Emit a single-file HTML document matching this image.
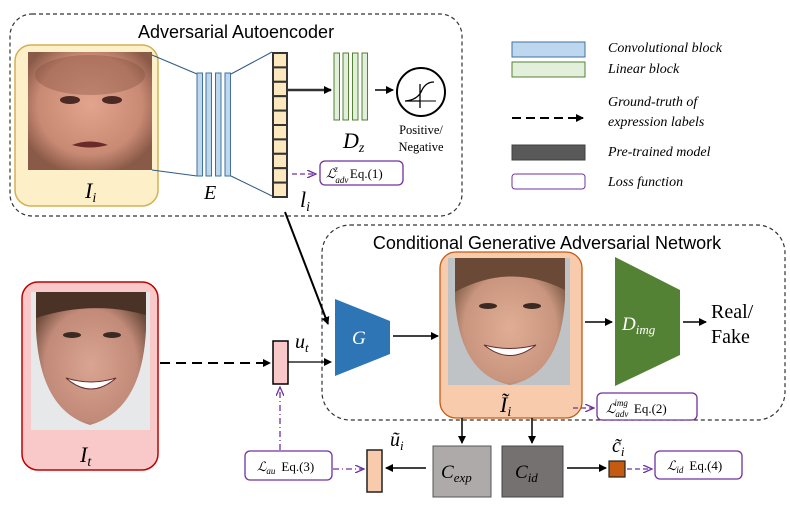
<!DOCTYPE html>
<html><head><meta charset="utf-8"><style>
body{margin:0;background:#fff}
svg{display:block}
text{font-family:"Liberation Serif",serif}
.s{font-family:"Liberation Sans",sans-serif}
.i{font-style:italic}
</style></head><body>
<svg width="790" height="509" viewBox="0 0 790 509" xmlns="http://www.w3.org/2000/svg">
<defs>
<marker id="a" markerWidth="8" markerHeight="8" refX="7" refY="4" orient="auto" markerUnits="userSpaceOnUse"><path d="M0,0 L8,4 L0,8 Z" fill="#000"/></marker>
<marker id="ap" markerWidth="10" markerHeight="8" refX="9" refY="4" orient="auto" markerUnits="userSpaceOnUse"><path d="M0,0 L9,4 L0,8" fill="none" stroke="#7030a0" stroke-width="1.3"/></marker>
<radialGradient id="skin1" cx="50%" cy="45%" r="60%"><stop offset="0" stop-color="#e3a48e"/><stop offset="0.7" stop-color="#c98a74"/><stop offset="1" stop-color="#8a5a48"/></radialGradient>
<radialGradient id="skin2" cx="50%" cy="55%" r="60%"><stop offset="0" stop-color="#d9a592"/><stop offset="0.7" stop-color="#c28a78"/><stop offset="1" stop-color="#6b4a3a"/></radialGradient>
<radialGradient id="skin3" cx="50%" cy="55%" r="60%"><stop offset="0" stop-color="#e0ad95"/><stop offset="0.7" stop-color="#c9957e"/><stop offset="1" stop-color="#7a5a44"/></radialGradient>
</defs>

<!-- top dashed box -->
<rect x="10" y="14" width="452" height="202" rx="22" fill="none" stroke="#333" stroke-dasharray="4,3" stroke-width="1.2"/>
<text x="236" y="38" text-anchor="middle" class="s" font-size="18" style="font-family:'Liberation Sans',sans-serif">Adversarial Autoencoder</text>

<rect x="15" y="45" width="143" height="161" rx="16" fill="#fdf0c8" stroke="#d4b050" stroke-width="1.5"/>
<rect x="28" y="52" width="124" height="118" fill="url(#skin1)"/>
<ellipse cx="90" cy="75" rx="55" ry="20" fill="#7a4a38" opacity="0.35"/>
<ellipse cx="70" cy="100" rx="10" ry="4" fill="#4a2a22"/><ellipse cx="112" cy="100" rx="10" ry="4" fill="#4a2a22"/>
<path d="M72,145 Q90,138 108,145 Q90,150 72,145Z" fill="#6a2a2a"/>
<text x="85" y="198" font-size="22" class="i">I<tspan font-size="14" dy="4">i</tspan></text>

<!-- encoder lines -->
<g stroke="#2e5a87" stroke-width="1" fill="none">
<line x1="152" y1="55" x2="197" y2="74"/><line x1="152" y1="170" x2="197" y2="176"/>
<line x1="231" y1="74" x2="272" y2="52"/><line x1="231" y1="176" x2="272" y2="196"/>
</g>
<g fill="#bdd7ee" stroke="#41719c" stroke-width="1">
<rect x="197" y="73" width="5.5" height="103"/><rect x="206" y="73" width="5.5" height="103"/><rect x="215.5" y="73" width="5.5" height="103"/><rect x="225" y="73" width="5.5" height="103"/>
</g>
<text x="204" y="199" font-size="20" class="i">E</text>

<!-- latent -->
<g fill="#fde9c0" stroke="#333" stroke-width="2">
<rect x="273" y="53" width="14" height="14.4"/><rect x="273" y="67.4" width="14" height="14.4"/><rect x="273" y="81.8" width="14" height="14.4"/><rect x="273" y="96.2" width="14" height="14.4"/><rect x="273" y="110.6" width="14" height="14.4"/><rect x="273" y="125" width="14" height="14.4"/><rect x="273" y="139.4" width="14" height="14.4"/><rect x="273" y="153.8" width="14" height="14.4"/><rect x="273" y="168.2" width="14" height="14.4"/><rect x="273" y="182.6" width="14" height="14.4"/>
</g>
<text x="300" y="207" font-size="22" class="i">l<tspan font-size="14" dy="4">i</tspan></text>

<line x1="288" y1="90" x2="331" y2="90" stroke="#333" stroke-width="2.5" marker-end="url(#a)"/>
<g fill="#e2efda" stroke="#548235" stroke-width="1">
<rect x="334" y="53" width="5.5" height="67"/><rect x="343" y="53" width="5.5" height="67"/><rect x="352.5" y="53" width="5.5" height="67"/><rect x="362" y="53" width="5.5" height="67"/>
</g>
<text x="343" y="148" font-size="22" class="i">D<tspan font-size="14" dy="4">z</tspan></text>
<line x1="375" y1="90" x2="393" y2="90" stroke="#000" stroke-width="1.5" marker-end="url(#a)"/>
<circle cx="421" cy="92" r="24" fill="#fff" stroke="#000" stroke-width="2"/>
<path d="M405,101 L420,101 M420,84 L420,108 M405,101 Q418,100 422,90 Q426,82 434,82" fill="none" stroke="#000" stroke-width="1.3"/>
<line x1="420" y1="101" x2="436" y2="101" stroke="#000" stroke-width="1"/>
<text x="421" y="134" font-size="12.5" text-anchor="middle">Positive/</text>
<text x="421" y="151" font-size="12.5" text-anchor="middle">Negative</text>

<line x1="292" y1="174" x2="316" y2="174" stroke="#7030a0" stroke-width="1.3" stroke-dasharray="5,3" marker-end="url(#ap)"/>
<rect x="320" y="161" width="83" height="24" rx="5" fill="#fff" stroke="#7030a0" stroke-width="1.3"/>
<text x="326" y="178" font-size="13" class="i">ℒ<tspan font-size="9" dy="5">adv</tspan><tspan font-size="9" dx="-14" dy="-11">z</tspan><tspan font-style="normal" font-size="13" dx="12" dy="6">Eq.(1)</tspan></text>

<!-- legend -->
<rect x="512" y="42" width="73" height="15" fill="#bdd7ee" stroke="#41719c"/>
<text x="608" y="52" font-size="14" class="i">Convolutional block</text>
<rect x="512" y="62" width="73" height="15" fill="#e2efda" stroke="#548235"/>
<text x="608" y="73" font-size="14" class="i">Linear block</text>
<line x1="512" y1="118" x2="583" y2="118" stroke="#000" stroke-width="2" stroke-dasharray="9,5" marker-end="url(#a)"/>
<text x="608" y="106" font-size="14" class="i">Ground-truth of</text>
<text x="608" y="126" font-size="14" class="i">expression labels</text>
<rect x="512" y="145" width="73" height="15" fill="#595959" stroke="#404040"/>
<text x="608" y="156" font-size="14" class="i">Pre-trained model</text>
<rect x="512" y="174" width="73" height="15" rx="3" fill="#fff" stroke="#7030a0"/>
<text x="608" y="186" font-size="14" class="i">Loss function</text>

<!-- bottom dashed box -->
<rect x="322" y="225" width="463" height="195" rx="28" fill="none" stroke="#333" stroke-dasharray="4,3" stroke-width="1.2"/>
<text x="547" y="249" text-anchor="middle" font-size="18" style="font-family:'Liberation Sans',sans-serif">Conditional Generative Adversarial Network</text>

<!-- It -->
<rect x="22" y="282" width="136" height="188" rx="16" fill="#f9c9c9" stroke="#c00000" stroke-width="1.5"/>
<rect x="31" y="292" width="119" height="138" fill="#e6e8ea"/>
<path d="M36,292 L146,292 L146,330 Q142,410 90,425 Q40,410 36,330Z" fill="url(#skin2)"/>
<path d="M36,292 L146,292 L146,315 Q92,300 36,318Z" fill="#4a3226"/>
<ellipse cx="72" cy="335" rx="9" ry="3" fill="#3a2a22"/><ellipse cx="112" cy="335" rx="9" ry="3" fill="#3a2a22"/>
<path d="M66,378 Q91,400 116,378 Q91,386 66,378Z" fill="#fff" stroke="#6a2a2a"/>
<text x="80" y="462" font-size="22" class="i">I<tspan font-size="14" dy="4">t</tspan></text>

<line x1="160" y1="363" x2="270" y2="363" stroke="#000" stroke-width="2" stroke-dasharray="10,6" marker-end="url(#a)"/>
<rect x="273" y="341" width="15" height="43" fill="#f9c9c9" stroke="#000" stroke-width="1.5"/>
<text x="295" y="348" font-size="20" class="i">u<tspan font-size="13" dy="4">t</tspan></text>
<line x1="288" y1="362" x2="331" y2="362" stroke="#000" stroke-width="1.3" marker-end="url(#a)"/>
<line x1="285" y1="212" x2="328" y2="324" stroke="#000" stroke-width="2" marker-end="url(#a)"/>

<polygon points="335,299 390,321 390,354 335,376" fill="#2e75b6"/>
<text x="352" y="344" font-size="19" class="i" fill="#fff">G</text>
<line x1="393" y1="336" x2="438" y2="336" stroke="#000" stroke-width="1.5" marker-end="url(#a)"/>

<!-- I tilde -->
<rect x="440" y="252" width="142" height="166" rx="16" fill="#f8cbad" stroke="#c55a11" stroke-width="1.3"/>
<rect x="448" y="258" width="122" height="127" fill="#bfc3c5"/>
<path d="M455,258 L565,258 L565,300 Q560,375 510,385 Q460,375 455,300Z" fill="url(#skin3)"/>
<path d="M455,258 L565,258 L565,290 Q510,262 455,292Z" fill="#6a4a36"/>
<ellipse cx="488" cy="306" rx="9" ry="3" fill="#3a2a22"/><ellipse cx="532" cy="306" rx="9" ry="3" fill="#3a2a22"/>
<path d="M484,345 Q510,366 536,345 Q510,352 484,345Z" fill="#fff" stroke="#6a2a2a"/>
<text x="500" y="412" font-size="22" class="i">Ĩ<tspan font-size="14" dy="4">i</tspan></text>

<line x1="585" y1="322" x2="612" y2="322" stroke="#000" stroke-width="1.5" marker-end="url(#a)"/>
<polygon points="615,257 680,290 680,355 615,386" fill="#548235"/>
<text x="622" y="330" font-size="19" class="i" fill="#fff">D<tspan font-size="13" dy="4">img</tspan></text>
<line x1="683" y1="322" x2="706" y2="322" stroke="#000" stroke-width="1.5" marker-end="url(#a)"/>
<text x="711" y="318" font-size="20">Real/</text>
<text x="711" y="343" font-size="20">Fake</text>

<line x1="573" y1="408" x2="594" y2="408" stroke="#7030a0" stroke-width="1.3" stroke-dasharray="5,3" marker-end="url(#ap)"/>
<rect x="597" y="393" width="100" height="27" rx="5" fill="#fff" stroke="#7030a0" stroke-width="1.3"/>
<text x="606" y="413" font-size="13" class="i">ℒ<tspan font-size="9" dy="4">adv</tspan><tspan font-size="9" dx="-14" dy="-11">img</tspan><tspan font-style="normal" font-size="13" dx="6" dy="7">Eq.(2)</tspan></text>

<line x1="462" y1="418" x2="462" y2="443" stroke="#000" stroke-width="1.5" marker-end="url(#a)"/>
<line x1="532" y1="418" x2="532" y2="443" stroke="#000" stroke-width="1.5" marker-end="url(#a)"/>
<rect x="433" y="446" width="58" height="51" fill="#aeaaaa" stroke="#555" stroke-width="1"/>
<text x="441" y="478" font-size="19" class="i">C<tspan font-size="13" dy="4">exp</tspan></text>
<rect x="502" y="446" width="61" height="51" fill="#757171" stroke="#444" stroke-width="1"/>
<text x="515" y="478" font-size="19" class="i">C<tspan font-size="13" dy="4">id</tspan></text>

<line x1="567" y1="468" x2="606" y2="468" stroke="#000" stroke-width="1.5" marker-end="url(#a)"/>
<rect x="609" y="461" width="16" height="16" fill="#c55a11" stroke="#222" stroke-width="1.2"/>
<text x="612" y="452" font-size="20" class="i">c̃<tspan font-size="13" dy="4">i</tspan></text>
<line x1="627" y1="469" x2="652" y2="469" stroke="#7030a0" stroke-width="1.3" stroke-dasharray="5,3" marker-end="url(#ap)"/>
<rect x="655" y="451" width="87" height="28" rx="5" fill="#fff" stroke="#7030a0" stroke-width="1.3"/>
<text x="667" y="470" font-size="13" class="i">ℒ<tspan font-size="9" dy="3">id</tspan><tspan font-style="normal" font-size="13" dx="6" dy="-3">Eq.(4)</tspan></text>

<line x1="426" y1="468" x2="386" y2="468" stroke="#000" stroke-width="1.5" marker-end="url(#a)"/>
<rect x="367" y="450" width="15" height="42" fill="#f8cbad" stroke="#222" stroke-width="1.5"/>
<text x="390" y="446" font-size="20" class="i">ũ<tspan font-size="13" dy="4">i</tspan></text>
<line x1="333" y1="469" x2="364" y2="469" stroke="#7030a0" stroke-width="1.3" stroke-dasharray="6,3,1,3" marker-end="url(#ap)"/>
<rect x="245" y="451" width="87" height="29" rx="5" fill="#fff" stroke="#7030a0" stroke-width="1.3"/>
<text x="257" y="471" font-size="13" class="i">ℒ<tspan font-size="9" dy="3">au</tspan><tspan font-style="normal" font-size="13" dx="6" dy="-3">Eq.(3)</tspan></text>
<line x1="280" y1="450" x2="280" y2="387" stroke="#7030a0" stroke-width="1.3" stroke-dasharray="6,3,1,3" marker-end="url(#ap)"/>
</svg>
</body></html>
